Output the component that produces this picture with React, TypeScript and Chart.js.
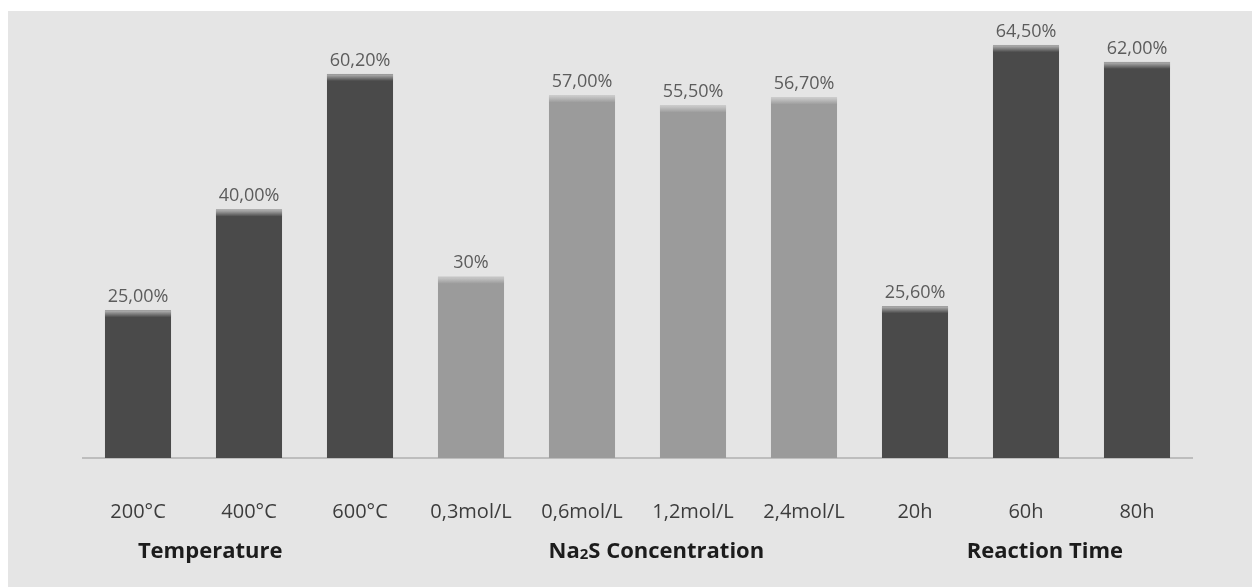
import { useEffect, useRef } from "react";
import { Chart, registerables } from "chart.js";

Chart.register(...registerables);

// Yield per experimental condition
const categories = [
  "200°C",
  "400°C",
  "600°C",
  "0,3mol/L",
  "0,6mol/L",
  "1,2mol/L",
  "2,4mol/L",
  "20h",
  "60h",
  "80h",
];
const yieldValues = [25.0, 40.0, 60.2, 30, 57.0, 55.5, 56.7, 25.6, 64.5, 62.0];
const labelDecimals = [2, 2, 2, 0, 2, 2, 2, 2, 2, 2];

// Condition groups shown under the axis
const groupNames = ["Temperature", "Na2S Concentration", "Reaction Time"];
const groupOfCategory = [0, 0, 0, 1, 1, 1, 1, 2, 2, 2];
const groupColors = ["#4a4a4a", "#9b9b9b", "#4a4a4a"];
// where each group title is centred, in category-index units
const groupAnchors = [0.65, 4.67, 8.17];

const FONT = "'Open Sans', 'DejaVu Sans', sans-serif";

const formatPercent = (v: number, decimals: number) =>
  v.toFixed(decimals).replace(".", ",") + "%";

const barDecor = {
  id: "barDecor",
  afterDatasetsDraw(chart: any) {
    const ctx: CanvasRenderingContext2D = chart.ctx;
    const meta = chart.getDatasetMeta(0);
    ctx.save();
    meta.data.forEach((bar: any, i: number) => {
      const { x, y, width } = bar.getProps(["x", "y", "width"], true);
      const left = x - width / 2;
      // soft light cap on top of each bar
      const capH = 7;
      const base = groupColors[groupOfCategory[i]];
      const light = groupOfCategory[i] === 1 ? "#c6c6c6" : "#a8a8a8";
      const grad = ctx.createLinearGradient(0, y - 1, 0, y + capH);
      grad.addColorStop(0, "rgba(229,229,229,0)");
      grad.addColorStop(0.25, light);
      grad.addColorStop(1, base);
      ctx.fillStyle = grad;
      ctx.fillRect(left, y - 1, width, capH + 1);

      // value label
      ctx.font = `18px ${FONT}`;
      ctx.fillStyle = "#5c5c5c";
      ctx.textAlign = "center";
      ctx.textBaseline = "middle";
      ctx.fillText(formatPercent(yieldValues[i], labelDecimals[i]), x, y - 13.5);
    });
    ctx.restore();
  },
};

const groupTitles = {
  id: "groupTitles",
  afterDraw(chart: any) {
    const ctx: CanvasRenderingContext2D = chart.ctx;
    const xs = chart.scales.x;
    const p0 = xs.getPixelForValue(0);
    const step = xs.getPixelForValue(1) - p0;
    const y = 541;
    ctx.save();
    ctx.fillStyle = "#1c1c1c";
    ctx.textBaseline = "middle";
    ctx.textAlign = "left";
    groupNames.forEach((name, g) => {
      // digits inside a formula are drawn as subscripts
      const parts = name.split(/(\d+)/).filter((s) => s.length);
      const fontFor = (s: string) =>
        /^\d+$/.test(s) ? `bold 15px ${FONT}` : `bold 22px ${FONT}`;
      let total = 0;
      parts.forEach((s) => {
        ctx.font = fontFor(s);
        total += ctx.measureText(s).width;
      });
      let cx = p0 + groupAnchors[g] * step - total / 2;
      parts.forEach((s) => {
        ctx.font = fontFor(s);
        const sub = /^\d+$/.test(s);
        ctx.fillText(s, cx, sub ? y + 3 : y);
        cx += ctx.measureText(s).width;
      });
    });
    ctx.restore();
  },
};

export default function App() {
  const canvasRef = useRef<HTMLCanvasElement | null>(null);

  useEffect(() => {
    const canvas = canvasRef.current;
    if (!canvas) return;
    const chart = new Chart(canvas, {
      type: "bar",
      data: {
        labels: categories,
        datasets: [
          {
            data: yieldValues,
            backgroundColor: groupOfCategory.map((g) => groupColors[g]),
            borderWidth: 0,
            categoryPercentage: 1,
            barPercentage: 0.595,
          },
        ],
      },
      options: {
        animation: false,
        responsive: false,
        devicePixelRatio: 1,
        layout: { padding: { left: 74.5, right: 59.5, top: 12, bottom: 21 } },
        plugins: {
          legend: { display: false },
          tooltip: { enabled: false },
        },
        scales: {
          x: {
            grid: { display: false, drawTicks: false },
            border: { display: true, color: "#bdbdbd", width: 2 },
            ticks: {
              color: "#3c3c3c",
              font: { family: FONT, size: 20 },
              padding: 42,
              maxRotation: 0,
              autoSkip: false,
            },
          },
          y: {
            display: false,
            min: 3,
            max: 67.8,
          },
        },
      },
      plugins: [barDecor, groupTitles],
    });
    return () => chart.destroy();
  }, []);

  return (
    <div
      style={{
        position: "absolute",
        left: 8,
        top: 11,
        width: 1244,
        height: 576,
        background: "#e5e5e5",
      }}
    >
      <canvas ref={canvasRef} width={1244} height={576} style={{ display: "block" }} />
    </div>
  );
}
